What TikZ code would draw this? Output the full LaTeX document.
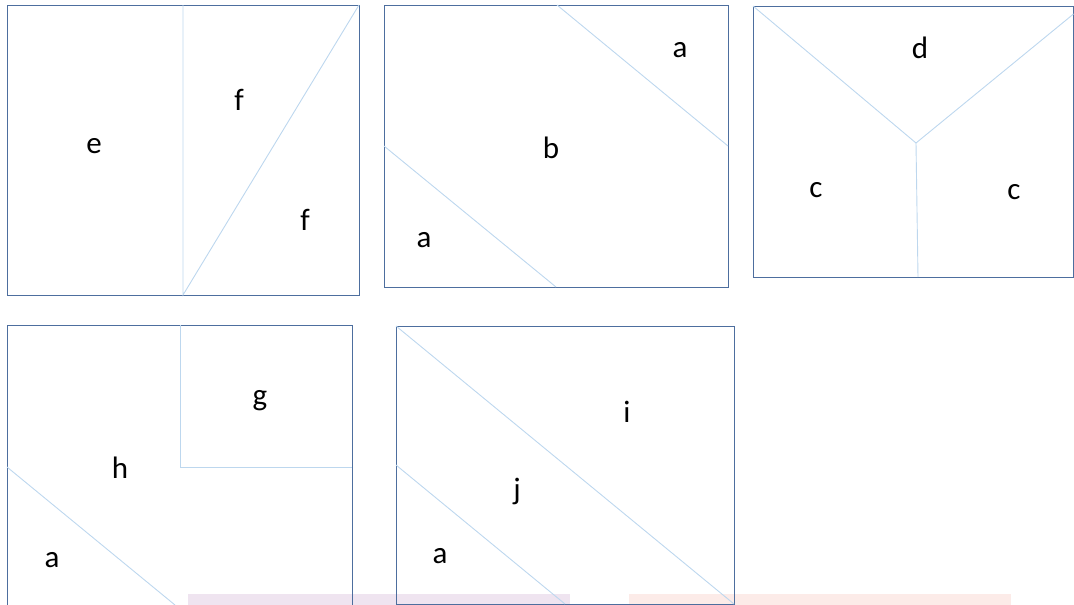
\documentclass[tikz,border=0pt]{standalone}
\usepackage{fontspec}
\setmainfont{Carlito}
\usetikzlibrary{positioning,calc}
\definecolor{pzFrameLine}{HTML}{4D6E9E}
\definecolor{pzCutLine}{HTML}{BDD7EE}
\definecolor{pzPurpleFill}{HTML}{EFE4F0}
\definecolor{pzPinkFill}{HTML}{FCEBE8}

\begin{document}
\begin{tikzpicture}[x=1pt, y=-1pt,
  frame/.style={pzFrameLine, line width=1pt},
  cut/.style={pzCutLine, line width=0.9pt},
  piece/.style={font=\fontsize{31}{33}\selectfont, inner sep=0pt, text=black}]

\useasboundingbox (0,0) rectangle (1074,605);

% --- FAINT BARS (behind the lower panels) ---
\fill[pzPurpleFill] (188,594) rectangle (570,606);
\fill[pzPinkFill] (629,594) rectangle (1011,606);

% --- PANEL 1: e | f / f ---
\draw[frame] (7,5) rectangle (359,295);
\draw[cut] (183,5) -- (183,295) -- (359,5);

% --- PANEL 2: a / b / a ---
\draw[frame] (384,5) rectangle (728,287);
\draw[cut] (557,5) -- (728,146);
\draw[cut] (384,146) -- (556,287);

% --- PANEL 3: d over c | c ---
\draw[frame] (753,6) rectangle (1073.5,277);
\coordinate (mid) at (916,143);
\draw[cut] (753,6) -- (mid) -- (1073.5,14);
\draw[cut] (mid) -- (918,277);

% --- PANEL 4: g in corner, h, a ---
\draw[frame] (7,325) rectangle (352,608);
\draw[cut] (180,325) -- (180,467) -- (352,467);
\draw[cut] (7,467) -- (175,605);

% --- PANEL 5: i / j / a ---
\draw[frame] (396,326) rectangle (734,604);
\draw[cut] (396,326) -- (734,604);
\draw[cut] (396,465) -- (565,604);

% --- LABELS ---
\foreach \nm/\px/\py/\lab in {
    e1/94/146/e, f1/239/100/f, f2/305/220/f,
    a1/680/50/a, b1/551/148/b, a2/424/240/a,
    d1/920/48/d, c1/816/190/c, c2/1014/192/c,
    g1/260/401/g, h1/120/468/h, a3/52/560/a,
    i1/627/412/i, j1/517/491/j, a4/440/556/a} {
  \node[piece] (\nm) at (\px,\py) {\lab};
}

\end{tikzpicture}
\end{document}
